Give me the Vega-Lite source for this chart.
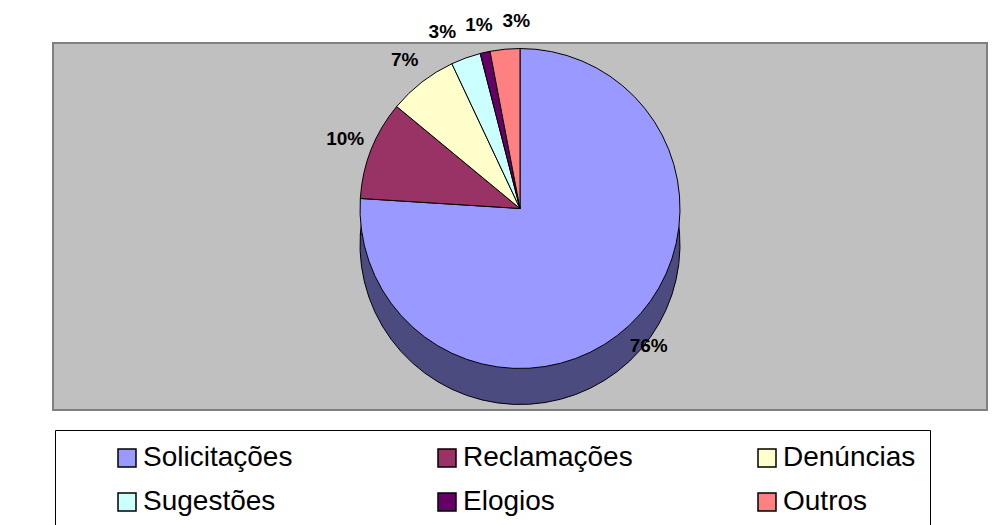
{
  "$schema": "https://vega.github.io/schema/vega-lite/v6.json",
  "width": 934,
  "height": 367,
  "autosize": {"type": "none"},
  "padding": {"left": 53, "top": 43, "right": 9, "bottom": 115},
  "background": "#FFFFFF",
  "view": {"fill": "#C0C0C0", "stroke": "#808080", "strokeWidth": 2},
  "data": {
    "values": [
      {"categoria": "Solicitações", "valor": 0.76, "ordem": 1},
      {"categoria": "Reclamações", "valor": 0.10, "ordem": 2},
      {"categoria": "Denúncias", "valor": 0.07, "ordem": 3},
      {"categoria": "Sugestões", "valor": 0.03, "ordem": 4},
      {"categoria": "Elogios", "valor": 0.01, "ordem": 5},
      {"categoria": "Outros", "valor": 0.03, "ordem": 6}
    ]
  },
  "encoding": {
    "theta": {"field": "valor", "type": "quantitative", "stack": true},
    "order": {"field": "ordem", "type": "quantitative"}
  },
  "layer": [
    {
      "mark": {"type": "arc", "outerRadius": 160, "yOffset": 18, "fill": "#4B4B80", "stroke": "#000000", "strokeWidth": 1}
    },
    {
      "mark": {"type": "arc", "outerRadius": 160, "yOffset": -18, "stroke": "#000000", "strokeWidth": 1, "strokeJoin": "round"},
      "encoding": {
        "color": {
          "field": "categoria",
          "type": "nominal",
          "sort": ["Solicitações", "Reclamações", "Denúncias", "Sugestões", "Elogios", "Outros"],
          "scale": {
            "domain": ["Solicitações", "Reclamações", "Denúncias", "Sugestões", "Elogios", "Outros"],
            "range": ["#9999FF", "#993366", "#FFFFCC", "#CCFFFF", "#660066", "#FF8080"]
          },
          "legend": {
            "title": null,
            "orient": "none",
            "legendX": 2,
            "legendY": 387,
            "direction": "horizontal",
            "columns": 3,
            "gridAlign": "all",
            "columnPadding": 76,
            "rowPadding": 16,
            "padding": 14,
            "symbolOffset": 44,
            "symbolType": "square",
            "symbolSize": 324,
            "symbolStrokeColor": "#000000",
            "symbolStrokeWidth": 1.5,
            "symbolOpacity": 1,
            "labelFont": "Liberation Sans",
            "labelFontSize": 28,
            "labelColor": "#000000",
            "labelOffset": 2,
            "labelLimit": 300,
            "strokeColor": "#000000",
            "fillColor": "#FFFFFF"
          }
        }
      }
    },
    {
      "mark": {"type": "text", "radius": 188, "yOffset": -18, "font": "Liberation Sans", "fontSize": 19, "fontWeight": "bold", "color": "#000000"},
      "encoding": {
        "text": {
          "condition": {"test": "datum.categoria === 'Sugestões' || datum.categoria === 'Outros'", "value": ""},
          "field": "valor", "type": "quantitative", "format": ".0%"
        }
      }
    },
    {
      "mark": {"type": "text", "radius": 188, "yOffset": -18, "dx": -14, "font": "Liberation Sans", "fontSize": 19, "fontWeight": "bold", "color": "#000000"},
      "encoding": {
        "text": {
          "condition": {"test": "datum.categoria !== 'Sugestões'", "value": ""},
          "field": "valor", "type": "quantitative", "format": ".0%"
        }
      }
    },
    {
      "mark": {"type": "text", "radius": 188, "yOffset": -18, "dx": 14, "font": "Liberation Sans", "fontSize": 19, "fontWeight": "bold", "color": "#000000"},
      "encoding": {
        "text": {
          "condition": {"test": "datum.categoria !== 'Outros'", "value": ""},
          "field": "valor", "type": "quantitative", "format": ".0%"
        }
      }
    }
  ]
}
